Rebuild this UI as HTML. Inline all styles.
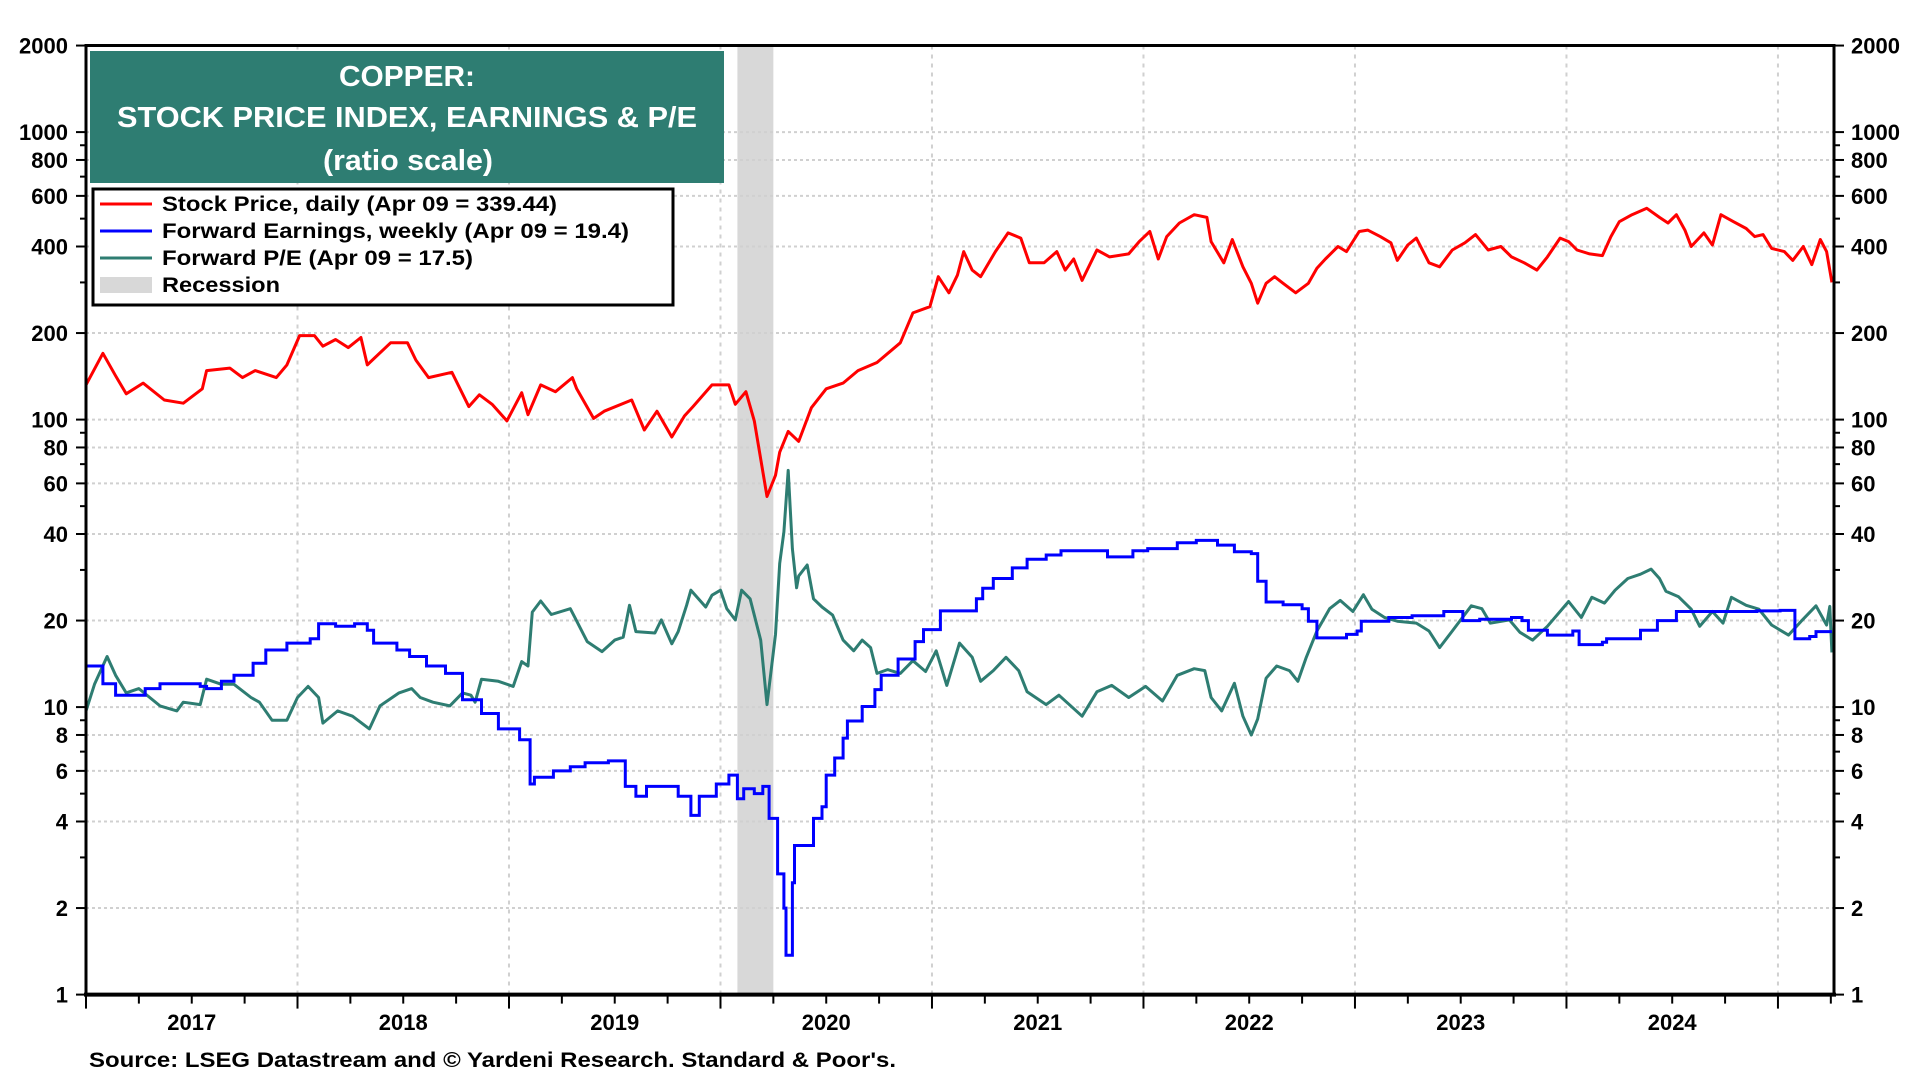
<!DOCTYPE html>
<html><head><meta charset="utf-8"><title>Copper chart</title>
<style>
html,body{margin:0;padding:0;background:#fff;}
svg{display:block;font-family:"Liberation Sans",Arial,sans-serif;font-weight:bold;}
</style></head>
<body>
<svg id="chart" width="1920" height="1080" viewBox="0 0 1920 1080" xmlns="http://www.w3.org/2000/svg">
<g id="grid"></g>
<g id="marks"></g>
<g id="axes"></g>
<g>
<rect x="90" y="51" width="634" height="132" fill="#2e7d72"/>
<text x="407" y="86" fill="#fff" font-size="29" text-anchor="middle" textLength="136" lengthAdjust="spacingAndGlyphs">COPPER:</text>
<text x="407" y="127" fill="#fff" font-size="29" text-anchor="middle" textLength="580" lengthAdjust="spacingAndGlyphs">STOCK PRICE INDEX, EARNINGS &amp; P/E</text>
<text x="408" y="170" fill="#fff" font-size="29" text-anchor="middle" textLength="170" lengthAdjust="spacingAndGlyphs">(ratio scale)</text>
</g>
<g>
<rect x="93" y="189" width="580" height="116" fill="#fff" stroke="#000" stroke-width="3"/>
<g><line x1="100" y1="204" x2="152" y2="204" stroke="#ff0000" stroke-width="3"/><text x="162" y="211" font-size="21" textLength="395" lengthAdjust="spacingAndGlyphs">Stock Price, daily (Apr 09 = 339.44)</text></g>
<g><line x1="100" y1="231" x2="152" y2="231" stroke="#0000ff" stroke-width="3"/><text x="162" y="238" font-size="21" textLength="467" lengthAdjust="spacingAndGlyphs">Forward Earnings, weekly (Apr 09 = 19.4)</text></g>
<g><line x1="100" y1="258" x2="152" y2="258" stroke="#2e7d72" stroke-width="3"/><text x="162" y="265" font-size="21" textLength="311" lengthAdjust="spacingAndGlyphs">Forward P/E (Apr 09 = 17.5)</text></g>
<g><rect x="100" y="277" width="52" height="16" fill="#d8d8d8"/><text x="162" y="292" font-size="21" textLength="118" lengthAdjust="spacingAndGlyphs">Recession</text></g>
</g>
<text x="89" y="1067" font-size="21" textLength="807" lengthAdjust="spacingAndGlyphs">Source: LSEG Datastream and © Yardeni Research. Standard &amp; Poor's.</text>
</svg>
<script>
const yTickValues=[1,2,4,6,8,10,20,40,60,80,100,200,400,600,800,1000,2000];
const yearLabels=["2017","2018","2019","2020","2021","2022","2023","2024"];
const recession=[2020.08,2020.25];
const stockT=[2017.0,2017.08,2017.14,2017.19,2017.27,2017.37,2017.46,2017.55,2017.57,2017.68,2017.74,2017.8,2017.9,2017.95,2018.01,2018.08,2018.12,2018.18,2018.24,2018.3,2018.33,2018.44,2018.52,2018.56,2018.62,2018.73,2018.81,2018.86,2018.92,2018.99,2019.06,2019.09,2019.15,2019.22,2019.3,2019.32,2019.4,2019.45,2019.58,2019.64,2019.7,2019.77,2019.83,2019.87,2019.96,2020.04,2020.07,2020.12,2020.16,2020.22,2020.26,2020.28,2020.32,2020.37,2020.43,2020.5,2020.58,2020.65,2020.74,2020.85,2020.91,2020.99,2021.03,2021.08,2021.12,2021.15,2021.19,2021.23,2021.3,2021.36,2021.42,2021.46,2021.53,2021.59,2021.63,2021.67,2021.71,2021.78,2021.84,2021.93,2021.98,2022.03,2022.07,2022.11,2022.17,2022.24,2022.3,2022.32,2022.38,2022.42,2022.47,2022.51,2022.54,2022.58,2022.62,2022.66,2022.72,2022.78,2022.82,2022.86,2022.92,2022.96,2023.02,2023.06,2023.12,2023.17,2023.2,2023.25,2023.29,2023.35,2023.4,2023.46,2023.52,2023.57,2023.63,2023.69,2023.74,2023.8,2023.86,2023.91,2023.97,2024.01,2024.05,2024.11,2024.17,2024.21,2024.25,2024.31,2024.38,2024.44,2024.48,2024.52,2024.56,2024.59,2024.65,2024.69,2024.73,2024.79,2024.85,2024.89,2024.93,2024.97,2025.03,2025.07,2025.12,2025.16,2025.2,2025.23,2025.255];
const stockV=[132,170,142,123,134,117,114,128,148,151,140,148,140,155,196,196,180,190,178,193,155,185,185,161,140,146,111,122,113,99,124,104,132,125,140,128,101,107,117,92,107,87,103,111,132,132,113,125,99,54,64,77,91,84,110,128,134,148,158,185,235,247,314,276,318,384,331,314,384,446,428,351,351,384,331,362,305,389,368,377,416,451,362,433,483,516,505,416,351,423,340,298,254,298,314,298,276,298,336,362,400,384,451,456,433,412,358,405,428,351,340,389,412,440,389,400,368,351,331,368,428,416,389,377,372,433,488,516,543,505,483,516,456,400,446,405,516,488,462,433,440,394,384,358,400,346,423,384,300];
const epsT=[2017.0,2017.08,2017.14,2017.28,2017.35,2017.54,2017.57,2017.64,2017.7,2017.79,2017.85,2017.95,2018.06,2018.1,2018.18,2018.27,2018.33,2018.36,2018.47,2018.53,2018.61,2018.7,2018.78,2018.87,2018.95,2019.05,2019.1,2019.12,2019.21,2019.29,2019.36,2019.47,2019.55,2019.6,2019.65,2019.8,2019.86,2019.9,2019.98,2020.04,2020.08,2020.11,2020.16,2020.2,2020.23,2020.27,2020.3,2020.31,2020.34,2020.35,2020.44,2020.48,2020.5,2020.54,2020.58,2020.6,2020.67,2020.73,2020.76,2020.84,2020.92,2020.96,2021.04,2021.21,2021.24,2021.29,2021.38,2021.45,2021.54,2021.61,2021.79,2021.83,2021.95,2022.02,2022.16,2022.25,2022.35,2022.43,2022.51,2022.54,2022.58,2022.66,2022.75,2022.78,2022.82,2022.96,2023.01,2023.03,2023.16,2023.27,2023.42,2023.51,2023.59,2023.74,2023.79,2023.82,2023.91,2024.03,2024.06,2024.17,2024.19,2024.35,2024.43,2024.52,2024.69,2024.9,2025.01,2025.08,2025.15,2025.18,2025.255];
const epsV=[13.9,12.05,11.0,11.6,12.05,11.8,11.6,12.3,12.9,14.2,15.8,16.7,17.3,19.5,19.1,19.5,18.5,16.7,15.8,15.0,13.9,13.1,10.6,9.5,8.4,7.7,5.4,5.7,6.0,6.2,6.4,6.5,5.3,4.9,5.3,4.9,4.2,4.9,5.4,5.8,4.8,5.2,5.0,5.3,4.1,2.63,2.0,1.37,2.45,3.3,4.1,4.5,5.8,6.65,7.8,8.95,10.05,11.5,12.9,14.7,16.9,18.6,21.6,23.8,25.9,28,30.5,32.7,33.8,35,35,33.3,35,35.6,37.3,38,36.6,34.7,34.2,27.4,23.2,22.7,22,19.9,17.4,17.9,18.4,19.9,20.5,20.8,21.5,20.0,20.2,20.5,20.0,18.5,17.8,18.4,16.5,16.8,17.3,18.5,20.0,21.5,21.5,21.6,21.7,17.3,17.6,18.3,18.3];
const peT=[2017.0,2017.04,2017.1,2017.14,2017.19,2017.25,2017.35,2017.43,2017.46,2017.54,2017.57,2017.64,2017.7,2017.78,2017.82,2017.88,2017.95,2018.0,2018.05,2018.1,2018.12,2018.19,2018.26,2018.34,2018.39,2018.48,2018.54,2018.58,2018.64,2018.72,2018.78,2018.82,2018.84,2018.87,2018.95,2019.02,2019.06,2019.09,2019.11,2019.15,2019.2,2019.29,2019.31,2019.37,2019.44,2019.5,2019.54,2019.57,2019.6,2019.69,2019.72,2019.77,2019.8,2019.84,2019.86,2019.93,2019.96,2020.0,2020.03,2020.07,2020.1,2020.14,2020.19,2020.22,2020.26,2020.28,2020.3,2020.32,2020.34,2020.36,2020.37,2020.41,2020.44,2020.48,2020.53,2020.58,2020.63,2020.67,2020.71,2020.74,2020.79,2020.85,2020.91,2020.97,2021.02,2021.07,2021.13,2021.19,2021.23,2021.29,2021.35,2021.41,2021.45,2021.54,2021.6,2021.71,2021.78,2021.85,2021.93,2022.01,2022.09,2022.16,2022.24,2022.29,2022.32,2022.37,2022.43,2022.47,2022.51,2022.54,2022.58,2022.63,2022.69,2022.73,2022.77,2022.82,2022.88,2022.93,2022.99,2023.04,2023.08,2023.14,2023.2,2023.29,2023.35,2023.4,2023.46,2023.55,2023.6,2023.64,2023.73,2023.78,2023.84,2023.91,2024.01,2024.07,2024.12,2024.18,2024.23,2024.29,2024.35,2024.4,2024.44,2024.47,2024.53,2024.59,2024.63,2024.69,2024.74,2024.78,2024.85,2024.91,2024.97,2025.05,2025.11,2025.18,2025.23,2025.245,2025.255];
const peV=[9.7,12.0,15.0,12.9,11.2,11.6,10.1,9.7,10.4,10.2,12.5,12.0,12.0,10.8,10.4,9.0,9.0,10.8,11.8,10.8,8.8,9.7,9.3,8.4,10.1,11.2,11.6,10.8,10.4,10.1,11.2,11.0,10.4,12.5,12.3,11.8,14.4,13.9,21.4,23.4,21.0,22,20.6,16.9,15.6,17.1,17.5,22.6,18.3,18.1,20.1,16.6,18.3,22.6,25.5,22.3,24.5,25.5,22,20.1,25.5,23.8,17.1,10.2,17.9,31.6,40.7,66.6,35.5,26,28.6,31.2,23.8,22.3,20.9,17.1,15.7,17.1,16.1,13.1,13.5,13.1,14.5,13.3,15.7,11.9,16.7,14.9,12.3,13.4,14.9,13.4,11.3,10.2,11,9.3,11.3,11.9,10.8,11.8,10.5,12.9,13.6,13.4,10.8,9.7,12.1,9.3,8.0,9.1,12.6,13.9,13.4,12.3,14.9,18.4,22,23.5,21.5,24.6,21.9,20.5,19.9,19.6,18.4,16.1,18.4,22.5,22,19.6,20.1,18.2,17.1,19.1,23.3,20.5,24.1,23,25.5,28,29,30.2,28,25.3,24.2,21.9,19.1,21.5,19.6,24.1,22.6,21.9,19.3,17.8,19.9,22.5,19.3,22.4,15.5];

const NS="http://www.w3.org/2000/svg";
const X0=86,X1=1834,T0=2017.0,T1=2025.265,YB=994.6,PD=287.5,YT=45.5;
function xs(t){return X0+(t-T0)/(T1-T0)*(X1-X0);}
function ys(v){return YB-Math.log10(v)*PD;}
function mk(tag,attrs,parent){const e=document.createElementNS(NS,tag);for(const k in attrs)e.setAttribute(k,attrs[k]);parent.appendChild(e);return e;}
const grid=document.getElementById('grid'),marks=document.getElementById('marks'),axes=document.getElementById('axes');

// recession band
const rb=mk('rect',{x:xs(recession[0]),y:YT,width:xs(recession[1])-xs(recession[0]),height:YB-YT,fill:'#d8d8d8'},grid);



// horizontal grid
yTickValues.forEach(v=>{
  if(v===1||v===2000)return;
  const g=mk('line',{x1:X0,x2:X1,y1:ys(v),y2:ys(v),stroke:'#d0d0d0','stroke-width':2,'stroke-dasharray':'3,3'},grid);
  
  
});
// vertical grid at year boundaries
for(let yr=2018;yr<=2025;yr++){
  const g=mk('line',{x1:xs(yr),x2:xs(yr),y1:YT,y2:YB,stroke:'#d0d0d0','stroke-width':2,'stroke-dasharray':'4,5'},grid);
  
  
}

function linePath(T,V){return T.map((t,i)=>(i?'L':'M')+xs(t).toFixed(1)+','+ys(V[i]).toFixed(1)).join('');}
function stepPath(T,V){let d='M'+xs(T[0]).toFixed(1)+','+ys(V[0]).toFixed(1);for(let i=1;i<T.length;i++){d+='H'+xs(T[i]).toFixed(1)+'V'+ys(V[i]).toFixed(1);}return d;}

const pe=mk('path',{d:linePath(peT,peV),fill:'none',stroke:'#2e7d72','stroke-width':3,'stroke-linejoin':'round'},marks);


const eps=mk('path',{d:stepPath(epsT,epsV),fill:'none',stroke:'#0000ff','stroke-width':3},marks);


const sp=mk('path',{d:linePath(stockT,stockV),fill:'none',stroke:'#ff0000','stroke-width':3,'stroke-linejoin':'round'},marks);



// frame
const fr=mk('rect',{x:X0,y:YT,width:X1-X0,height:YB-YT,fill:'none',stroke:'#000','stroke-width':3},axes);


mk('line',{x1:X0-2,x2:X1+2,y1:YB,y2:YB,stroke:'#000','stroke-width':4},axes);

// minor ticks left/right
for(let dec=0;dec<4;dec++){
  for(let m=1;m<10;m++){
    const v=m*Math.pow(10,dec); if(v>2000)break;
    const major=yTickValues.indexOf(v)>=0;
    const L=major?10:6;
    mk('line',{x1:X0-L,x2:X0,y1:ys(v),y2:ys(v),stroke:'#000','stroke-width':2},axes);
    mk('line',{x1:X1,x2:X1+L,y1:ys(v),y2:ys(v),stroke:'#000','stroke-width':2},axes);
  }
}
yTickValues.forEach(v=>{
  const a=mk('text',{x:68,y:ys(v)+8,'font-size':22,'text-anchor':'end'},axes);a.textContent=String(v);
  
  
  const b=mk('text',{x:1851,y:ys(v)+8,'font-size':22},axes);b.textContent=String(v);
  
  
});
// bottom ticks
for(let q=0;q<=33;q++){
  const t=T0+q*0.25; if(t>T1)break;
  const yr=(q%4===0);
  mk('line',{x1:xs(t),x2:xs(t),y1:YB,y2:YB+(yr?14:9),stroke:'#000','stroke-width':2},axes);
}
yearLabels.forEach((lab,i)=>{
  const tx=mk('text',{x:xs(T0+i+0.5),y:1030,'font-size':22,'text-anchor':'middle'},axes);tx.textContent=lab;
  
  
});
</script>
</body></html>
